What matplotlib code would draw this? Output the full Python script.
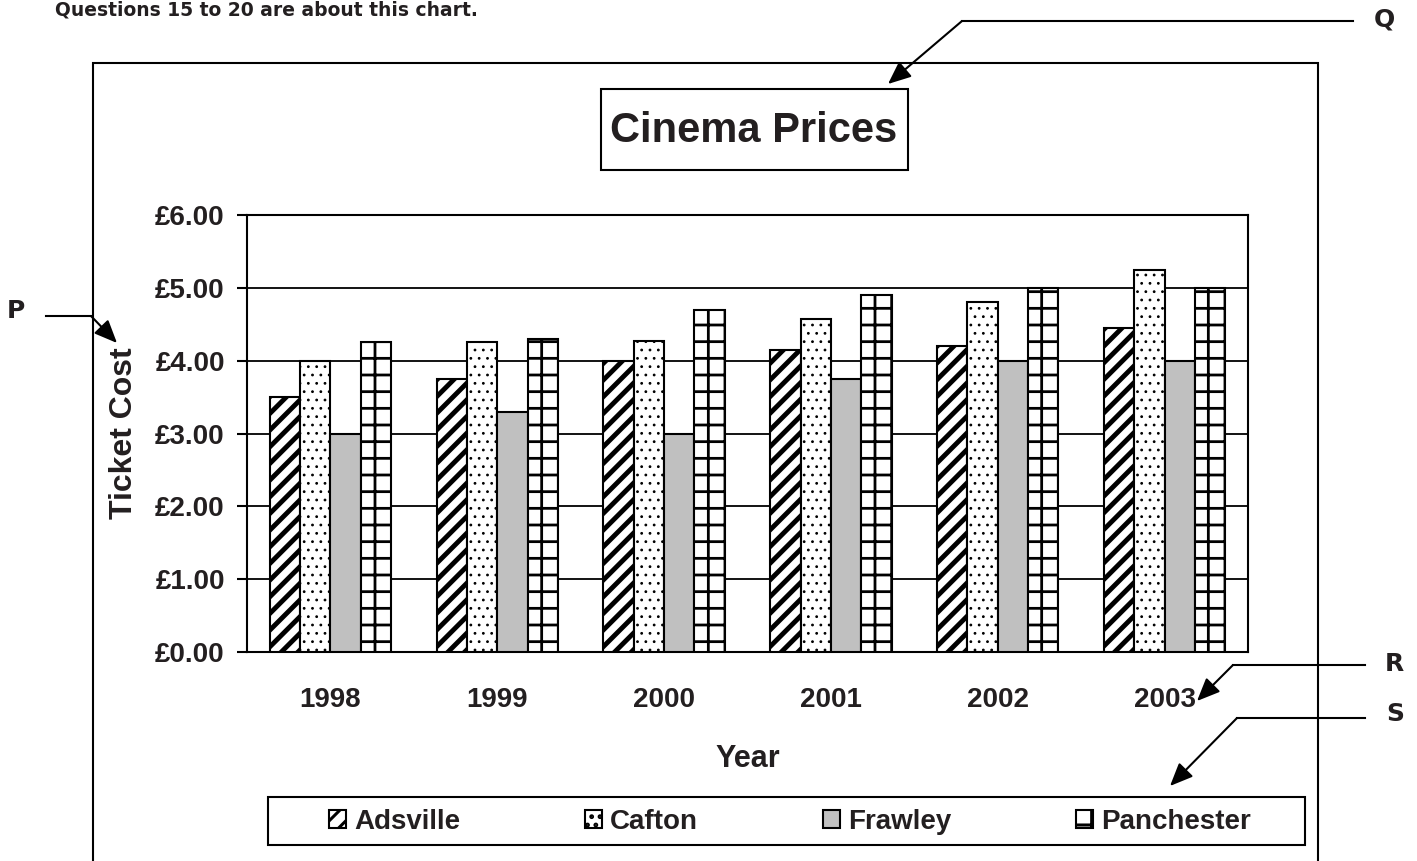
import matplotlib
matplotlib.use('Agg')
import matplotlib.pyplot as plt
import numpy as np
from matplotlib.patches import Rectangle, FancyArrowPatch
from matplotlib.lines import Line2D

W, H = 1417, 861

years = ['1998', '1999', '2000', '2001', '2002', '2003']
towns = ['Adsville', 'Cafton', 'Frawley', 'Panchester']
adsville = [3.50, 3.75, 4.00, 4.15, 4.20, 4.45]
cafton = [4.00, 4.25, 4.27, 4.57, 4.80, 5.25]
frawley = [3.00, 3.30, 3.00, 3.75, 4.00, 4.00]
panchester = [4.25, 4.30, 4.70, 4.90, 5.00, 5.00]
yticks = [0, 1, 2, 3, 4, 5, 6]
ytick_labels = ['£0.00', '£1.00', '£2.00', '£3.00', '£4.00', '£5.00', '£6.00']

plt.rcParams['font.family'] = ['Liberation Sans', 'DejaVu Sans']
plt.rcParams['font.weight'] = 'bold'
plt.rcParams['axes.labelweight'] = 'bold'
plt.rcParams['hatch.linewidth'] = 2.2
TXT = '#231f20'


def px(x, y):
    # pixel (from top-left) -> figure fraction
    return x / W, 1 - y / H


fig = plt.figure(figsize=(W / 100, H / 100), dpi=100)
ax = fig.add_axes([247 / W, 1 - 652 / H, 1001 / W, 437 / H])

x = np.arange(len(years))
bw = 0.182
series = [adsville, cafton, frawley, panchester]
styles = [('white', '//', 3.5), ('white', '..', 0.8), ('#c0c0c0', '', 1.0), ('white', '+', 2.0)]
bars = []
for i, (vals, (fc, hatch, hlw)) in enumerate(zip(series, styles)):
    with plt.rc_context({'hatch.linewidth': hlw}):
        b = ax.bar(x + (i - 1.5) * bw, vals, bw, color=fc, edgecolor='black',
                   hatch=hatch, linewidth=1.5, label=towns[i], zorder=3)
    for p in b:
        if hasattr(p, 'set_hatch_linewidth'):
            p.set_hatch_linewidth(hlw)
    bars.append(b)

ax.set_xlim(-0.5, len(years) - 0.5)
ax.set_ylim(0, 6)
ax.set_yticks(yticks)
ax.set_yticklabels(ytick_labels)
ax.set_xticks(x)
ax.set_xticklabels(years)
ax.tick_params(axis='y', length=7, width=1.5, pad=9, labelsize=20, labelcolor=TXT)
ax.tick_params(axis='x', length=0, pad=25, labelsize=20, labelcolor=TXT)
ax.grid(axis='y', color='black', linewidth=1.3, zorder=0)
ax.set_axisbelow(True)
for s in ax.spines.values():
    s.set_linewidth(1.5)

ax.set_xlabel('Year', fontsize=22, color=TXT, fontweight='bold')
ax.xaxis.set_label_coords(0.5, -0.21)
ax.set_ylabel('Ticket Cost', fontsize=23, color=TXT, fontweight='bold')
ax.yaxis.set_label_coords(-0.108, 0.5)

# outer frame
fig.add_artist(Rectangle(px(93, 900), (1318 - 93) / W, (900 - 63) / H,
                         transform=fig.transFigure, fill=False, lw=1.5, ec='black'))

# title box
fig.add_artist(Rectangle(px(601, 170), 307 / W, 81 / H, transform=fig.transFigure,
                         fill=False, lw=1.5, ec='black'))
fig.text(*px(754, 131), 'Cinema Prices', fontsize=30, ha='center', va='center', color=TXT)

# legend
fig.add_artist(Rectangle(px(268, 845), (1305 - 268) / W, 48 / H, transform=fig.transFigure,
                         fill=False, lw=1.5, ec='black'))
leg = fig.legend(handles=bars, labels=towns, loc='center', bbox_to_anchor=px(790, 822),
                 ncol=4, frameon=False, fontsize=20, handlelength=0.6, handleheight=0.6,
                 handletextpad=0.3, columnspacing=4.5, labelcolor=TXT)

# question text at the very top
fig.text(*px(55, 1), 'Questions 15 to 20 are about this chart.', fontsize=13.5,
         family='DejaVu Sans', weight='bold', va='top', ha='left', color=TXT)

# annotation letters and arrows
for letter, (lx, ly) in {'P': (16, 311), 'Q': (1384, 20), 'R': (1394, 664), 'S': (1395, 714)}.items():
    fig.text(*px(lx, ly), letter, fontsize=18, family='DejaVu Sans', weight='bold',
             ha='center', va='center', color=TXT)

arrows = [
    ((46, 316), (91, 316), (117, 343)),
    ((1353, 21), (962, 21), (888, 84)),
    ((1365, 665), (1233, 665), (1197, 701)),
    ((1365, 718), (1237, 718), (1170, 786)),
]
for p0, p1, p2 in arrows:
    a, b = px(*p0), px(*p1)
    fig.add_artist(Line2D([a[0], b[0]], [a[1], b[1]], transform=fig.transFigure,
                          color='black', lw=1.5))
    fig.add_artist(FancyArrowPatch(px(*p1), px(*p2), transform=fig.transFigure,
                                   arrowstyle='-|>,head_length=14,head_width=6',
                                   color='black', lw=1.5, shrinkA=0, shrinkB=0,
                                   mutation_scale=1))

fig.savefig('out.png', dpi=100)
